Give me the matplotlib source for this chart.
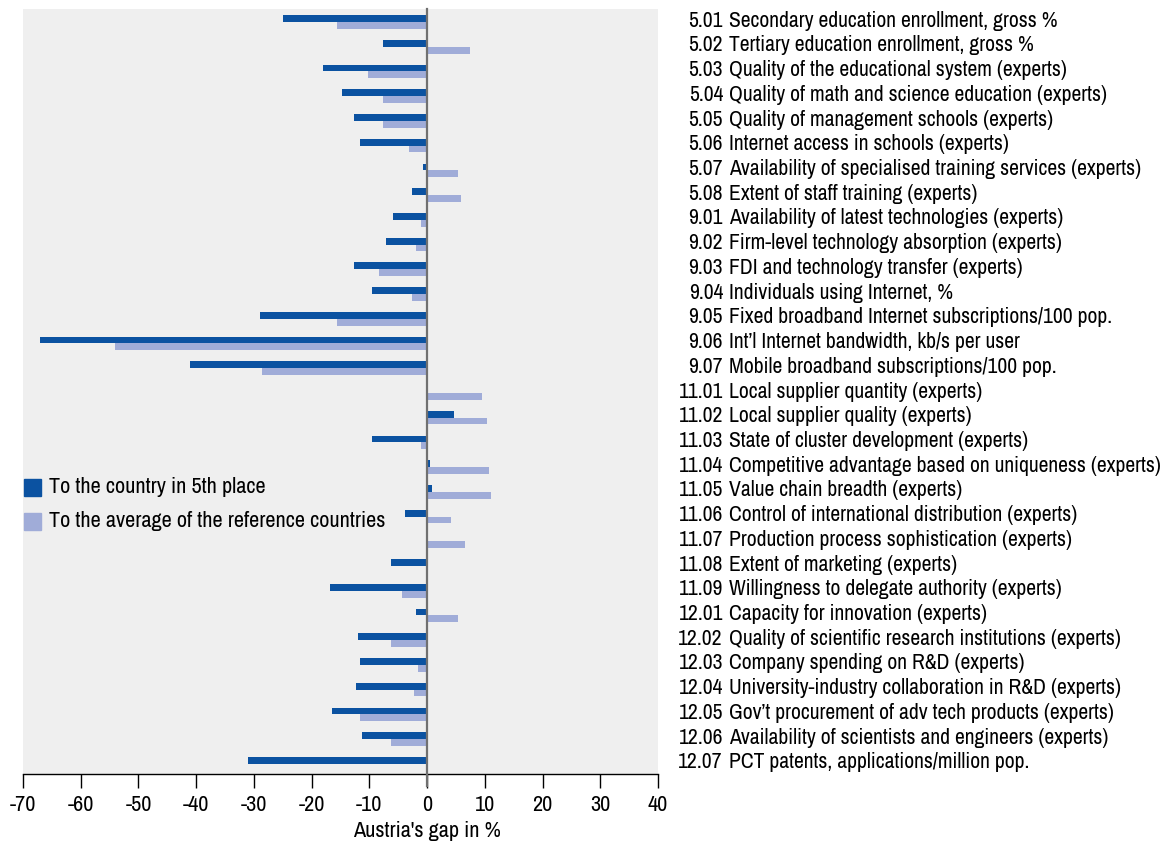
import numpy as np
import matplotlib.pyplot as plt
from matplotlib.patches import Rectangle
from matplotlib import font_manager

codes = ["5.01", "5.02", "5.03", "5.04", "5.05", "5.06", "5.07", "5.08",
         "9.01", "9.02", "9.03", "9.04", "9.05", "9.06", "9.07",
         "11.01", "11.02", "11.03", "11.04", "11.05", "11.06", "11.07", "11.08", "11.09",
         "12.01", "12.02", "12.03", "12.04", "12.05", "12.06", "12.07"]
names = ["Secondary education enrollment, gross %",
         "Tertiary education enrollment, gross %",
         "Quality of the educational system (experts)",
         "Quality of math and science education (experts)",
         "Quality of management schools (experts)",
         "Internet access in schools (experts)",
         "Availability of specialised training services (experts)",
         "Extent of staff training (experts)",
         "Availability of latest technologies (experts)",
         "Firm-level technology absorption (experts)",
         "FDI and technology transfer (experts)",
         "Individuals using Internet, %",
         "Fixed broadband Internet subscriptions/100 pop.",
         "Int\u2019l Internet bandwidth, kb/s per user",
         "Mobile broadband subscriptions/100 pop.",
         "Local supplier quantity (experts)",
         "Local supplier quality (experts)",
         "State of cluster development (experts)",
         "Competitive advantage based on uniqueness (experts)",
         "Value chain breadth (experts)",
         "Control of international distribution (experts)",
         "Production process sophistication (experts)",
         "Extent of marketing (experts)",
         "Willingness to delegate authority (experts)",
         "Capacity for innovation (experts)",
         "Quality of scientific research institutions (experts)",
         "Company spending on R&D (experts)",
         "University-industry collaboration in R&D (experts)",
         "Gov\u2019t procurement of adv tech products (experts)",
         "Availability of scientists and engineers (experts)",
         "PCT patents, applications/million pop."]

# gap to the country in 5th place
gap_5th = [-25.0, -7.6, -18.0, -14.8, -12.7, -11.6, -0.7, -2.7,
           -5.9, -7.1, -12.7, -9.5, -29.0, -67.0, -41.1,
           0.0, 4.7, -9.5, 0.5, 0.9, -3.9, 0.0, -6.3, -16.8,
           -1.9, -11.9, -11.6, -12.4, -16.4, -11.2, -31.0]
# gap to the average of the reference countries
gap_avg = [-15.6, 7.4, -10.3, -7.6, -7.6, -3.1, 5.3, 5.8,
           -1.1, -1.9, -8.4, -2.7, -15.6, -54.1, -28.6,
           9.5, 10.3, -1.1, 10.7, 11.1, 4.2, 6.6, -0.1, -4.3,
           5.3, -6.3, -1.5, -2.3, -11.6, -6.3, 0.0]

legend_labels = ["To the country in 5th place",
                 "To the average of the reference countries"]

dark = "#0b52a1"
light = "#a0acd8"

# narrow font if there is one, else condensed DejaVu
have = {f.name for f in font_manager.fontManager.ttflist}
for cand in ["Archivo Narrow", "Fira Sans Condensed", "DejaVu Sans"]:
    if cand in have:
        break
plt.rcParams['font.family'] = [cand, "DejaVu Sans"]
if cand == "DejaVu Sans":
    plt.rcParams['font.stretch'] = "condensed"
plt.rcParams['axes.unicode_minus'] = False
fs = 16 if cand != "DejaVu Sans" else 13
fs_lab = 15.6 if cand != "DejaVu Sans" else 12.5

W, H = 1172, 841
fig = plt.figure(figsize=(W / 100, H / 100), dpi=100)
ax = fig.add_axes([23 / W, 1 - 774 / H, 635 / W, 765 / H])
ax.set_facecolor("#efefef")

y = np.arange(len(codes))
bh = 0.275
ax.barh(y, gap_5th, height=bh, color=dark, zorder=2)
ax.barh(y + bh, gap_avg, height=bh, color=light, zorder=2)
ax.axvline(0, ymin=-0.016, ymax=1, color="#707070", lw=1.6, zorder=3, clip_on=False)

ax.set_xlim(-70, 40)
ax.set_ylim(30.55, -0.39)
ax.set_xticks(np.arange(-70, 41, 10))
ax.set_yticks([])
for s in ["left", "top", "right"]:
    ax.spines[s].set_visible(False)
ax.spines["bottom"].set_linewidth(1.0)
ax.tick_params(axis="x", direction="out", length=10, width=1, pad=5, labelsize=fs)

ax.text(0, -0.062, "Austria's gap in %", transform=ax.get_xaxis_transform(),
        ha="center", va="top", fontsize=fs)

ytr = ax.get_yaxis_transform()
xc = (723 - 23) / 635
xn = (729 - 23) / 635
for i, (c, n) in enumerate(zip(codes, names)):
    ax.text(xc, i + 0.08, c, transform=ytr, ha="right", va="center", fontsize=fs_lab, clip_on=False)
    ax.text(xn, i + 0.08, n, transform=ytr, ha="left", va="center", fontsize=fs_lab, clip_on=False)

# legend
for k, (lab, col) in enumerate(zip(legend_labels, [dark, light])):
    yc = 487 + 34 * k
    fig.patches.append(Rectangle((24 / W, 1 - (yc + 8.5) / H), 17 / W, 17 / H,
                                 transform=fig.transFigure, color=col))
    fig.text(49 / W, 1 - yc / H, lab, ha="left", va="center", fontsize=fs)

fig.savefig("out.png", dpi=100, facecolor="white")
